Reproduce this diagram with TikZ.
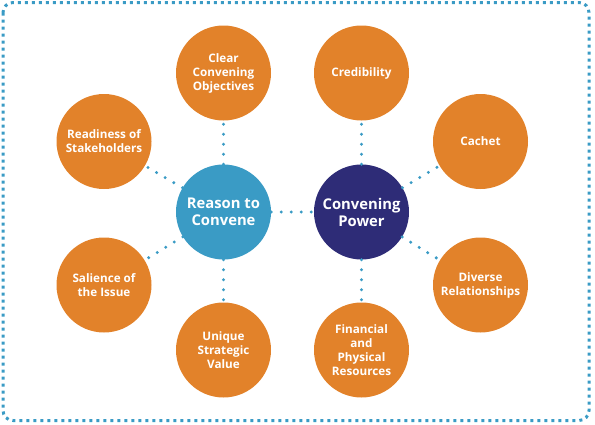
\documentclass[tikz,border=0pt]{standalone}
\usepackage{fontspec}
\setmainfont{Open Sans}
\definecolor{orng}{HTML}{E2822A}
\definecolor{lblue}{HTML}{3A9BC5}
\definecolor{navy}{HTML}{2E2C77}
\begin{document}
\begin{tikzpicture}[x=1pt,y=-1pt,
  outer/.style={circle,fill=orng,minimum size=95pt,inner sep=0pt,text=white,
    font=\fontsize{11.7}{14}\selectfont\bfseries,align=center},
  inner/.style={circle,minimum size=95pt,inner sep=0pt,text=white,
    font=\fontsize{14.8}{17}\selectfont\bfseries,align=center},
  link/.style={draw=lblue,line width=3.3pt,line cap=round,dash pattern=on 0pt off 10pt},
  frame/.style={draw=lblue,line width=3pt,dash pattern=on 3pt off 4pt,rounded corners=10pt}]
\useasboundingbox (0,0) rectangle (595,424);
\path[frame] (3,2.5) rectangle (589,420.5);
\node[inner,fill=lblue] (rc) at (223.5,212) {Reason to\\Convene};
\node[inner,fill=navy] (cp) at (361.5,212) {Convening\\Power};
\node[outer] (cco) at (223.5,73) {Clear\\Convening\\Objectives};
\node[outer] (cred) at (361.5,73) {Credibility};
\node[outer] (rs) at (104,141.5) {Readiness of\\Stakeholders};
\node[outer] (si) at (104,285) {Salience of\\the Issue};
\node[outer] (usv) at (223.5,350) {Unique\\Strategic\\Value};
\node[outer] (fpr) at (361.5,350) {Financial\\and\\Physical\\Resources};
\node[outer] (cach) at (480.5,141.5) {Cachet};
\node[outer] (dr) at (480.5,285) {Diverse\\Relationships};
\path[link] (rc) -- (cp);
\path[link] (rc) -- (cco);
\path[link] (rc) -- (rs);
\path[link] (rc) -- (si);
\path[link] (rc) -- (usv);
\path[link] (cp) -- (cred);
\path[link] (cp) -- (cach);
\path[link] (cp) -- (dr);
\path[link] (cp) -- (fpr);
\end{tikzpicture}
\end{document}
